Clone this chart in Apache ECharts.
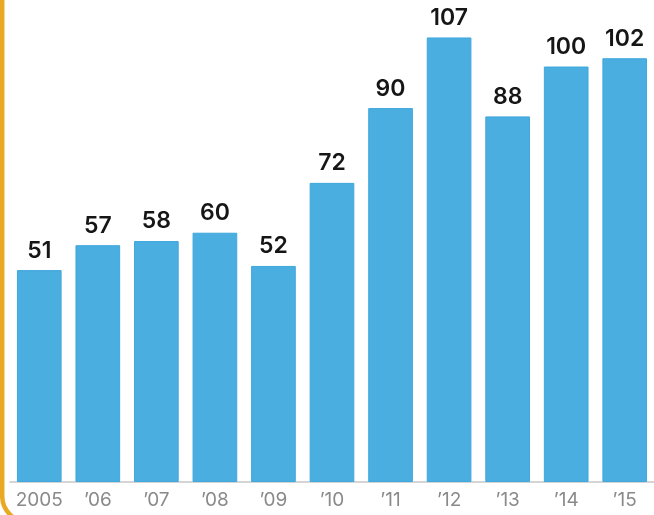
<!DOCTYPE html>
<html>
<head>
<meta charset="utf-8">
<script src="https://cdn.jsdelivr.net/npm/echarts@6/dist/echarts.min.js"></script>
<style>
  html, body { margin: 0; padding: 0; background: #fff; }
  #chart { width: 654px; height: 515px; }
</style>
</head>
<body>
<div id="chart"></div>
<script>
// Years shown along the bottom
const years = ['2005', '\u201906', '\u201907', '\u201908', '\u201909', '\u201910', '\u201911', '\u201912', '\u201913', '\u201914', '\u201915'];
// Yearly totals
const totals = [51, 57, 58, 60, 52, 72, 90, 107, 88, 100, 102];

const chart = echarts.init(document.getElementById('chart'));
chart.setOption({
  animation: false,
  backgroundColor: '#ffffff',
  grid: { left: 10, right: -4.5, top: 25, bottom: 33, containLabel: false },
  xAxis: {
    type: 'category',
    data: years,
    axisLine: { show: true, lineStyle: { color: '#c8c8c8', width: 1.5 } },
    axisTick: { show: false },
    axisLabel: {
      interval: 0,
      hideOverlap: false,
      color: '#8a8a8a',
      fontFamily: 'Inter, "Open Sans", sans-serif',
      fontSize: 19,
      margin: 9
    }
  },
  yAxis: {
    type: 'value',
    min: 0,
    max: 110,
    show: false,
    splitLine: { show: false }
  },
  series: [{
    type: 'bar',
    data: totals,
    barCategoryGap: '23.7%',
    itemStyle: { color: '#4aaee0', borderColor: '#3fa7dc', borderWidth: 1 },
    label: {
      show: true,
      position: 'top',
      distance: 8,
      color: '#161616',
      fontFamily: 'Inter, "Open Sans", sans-serif',
      fontWeight: 600,
      fontSize: 23
    }
  }],
  graphic: [{
    type: 'rect',
    shape: { x: 2.2, y: -40, width: 1000, height: 562, r: 26 },
    style: { fill: 'none', stroke: '#e9a922', lineWidth: 4.5 },
    silent: true,
    z: 10
  }]
});
</script>
</body>
</html>
